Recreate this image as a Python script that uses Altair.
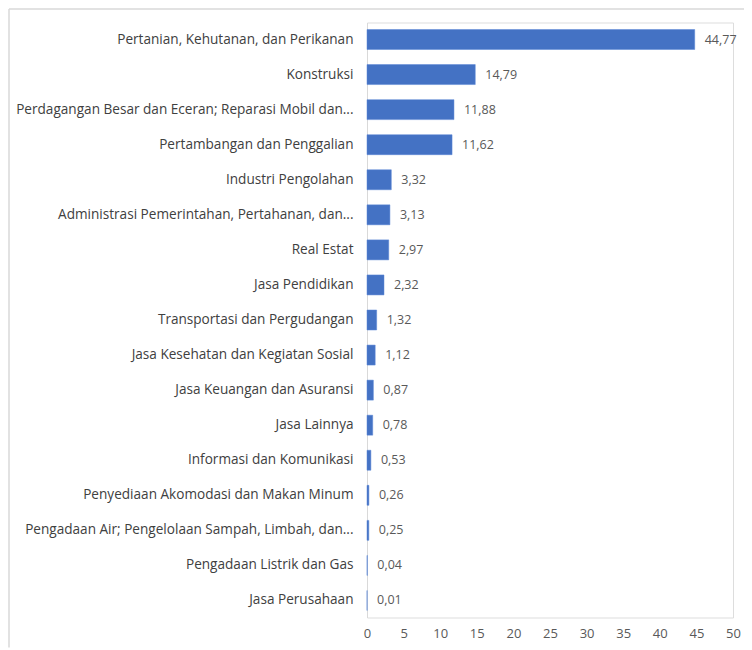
import altair as alt
import pandas as pd

categories = [
    "Pertanian, Kehutanan, dan Perikanan",
    "Konstruksi",
    "Perdagangan Besar dan Eceran; Reparasi Mobil dan...",
    "Pertambangan dan Penggalian",
    "Industri Pengolahan",
    "Administrasi Pemerintahan, Pertahanan, dan...",
    "Real Estat",
    "Jasa Pendidikan",
    "Transportasi dan Pergudangan",
    "Jasa Kesehatan dan Kegiatan Sosial",
    "Jasa Keuangan dan Asuransi",
    "Jasa Lainnya",
    "Informasi dan Komunikasi",
    "Penyediaan Akomodasi dan Makan Minum",
    "Pengadaan Air; Pengelolaan Sampah, Limbah, dan...",
    "Pengadaan Listrik dan Gas",
    "Jasa Perusahaan",
]
values = [44.77, 14.79, 11.88, 11.62, 3.32, 3.13, 2.97, 2.32, 1.32, 1.12,
          0.87, 0.78, 0.53, 0.26, 0.25, 0.04, 0.01]
x_ticks = [0, 5, 10, 15, 20, 25, 30, 35, 40, 45, 50]

df = pd.DataFrame({"sektor": categories, "nilai": values})
df["label"] = [f"{v:.2f}".replace(".", ",") for v in values]

FONT = "Open Sans"

y_enc = alt.Y("sektor:N", sort=None,
              scale=alt.Scale(paddingInner=0.43, paddingOuter=0.2),
              axis=alt.Axis(title=None, domain=True, domainColor="#d9d9d9",
                            ticks=False, labelPadding=14, labelFontSize=13.6,
                            labelColor="#404040", labelFont=FONT, labelLimit=400))
x_enc = alt.X("nilai:Q", scale=alt.Scale(domain=[0, 50], nice=False),
              axis=alt.Axis(title=None, values=x_ticks, domain=False, ticks=False,
                            grid=False, labelPadding=10, labelFontSize=13,
                            labelOverlap=False, labelFlush=False,
                            labelColor="#595959", labelFont=FONT))

base = alt.Chart(df).encode(y=y_enc, x=x_enc)

bars = base.mark_bar(color="#4472C4", stroke="#5b87d6", strokeWidth=0.5)
texts = base.mark_text(align="left", baseline="middle", dx=10,
                       fontSize=12.5, color="#595959", font=FONT).encode(text="label:N")

frame_top = alt.Chart().mark_rule(color="#d9d9d9", strokeWidth=1.5).encode(
    x=alt.value(-358), x2=alt.value(377), y=alt.value(-13.5)
)
frame_left = alt.Chart().mark_rule(color="#d9d9d9", strokeWidth=1.5).encode(
    x=alt.value(-358), y=alt.value(-13.5), y2=alt.value(625)
)

chart = alt.layer(bars, texts, frame_top, frame_left).properties(
    width=366, height=595,
    autosize=alt.AutoSizeParams(type="none"),
    padding={"left": 359, "top": 14.5, "right": 11, "bottom": 30},
).configure_view(stroke=None).configure(background="white")

chart.save("out.html", embed_options={"renderer": "svg", "actions": False})
